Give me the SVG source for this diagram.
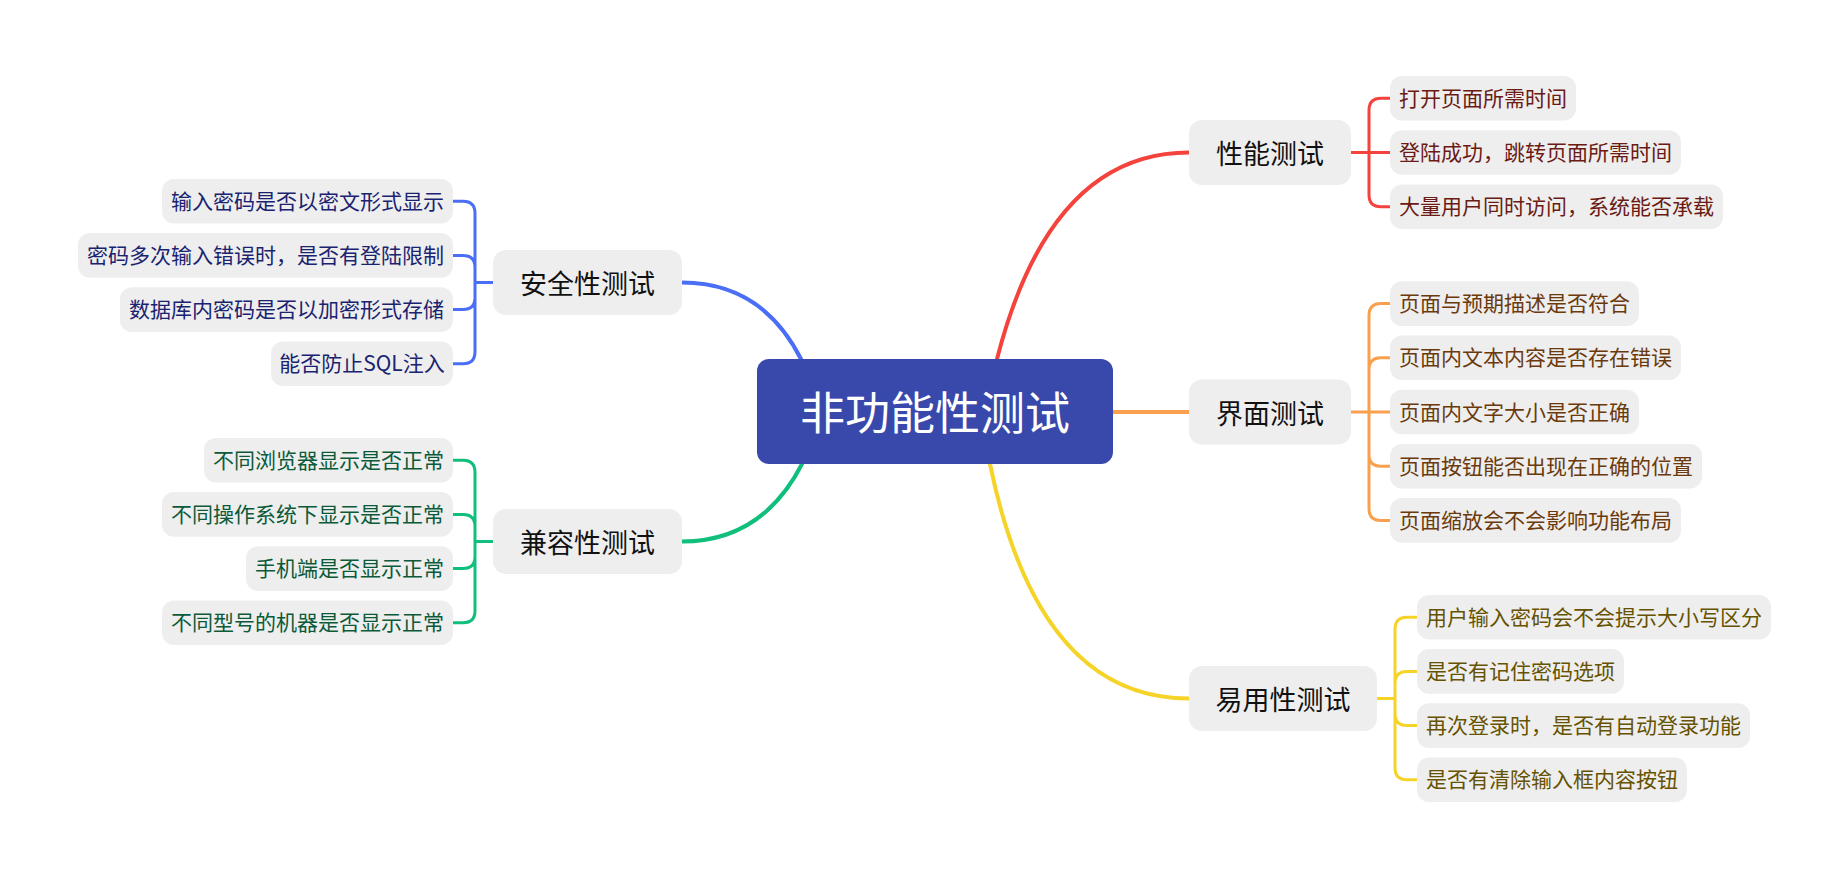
<svg xmlns="http://www.w3.org/2000/svg" width="1846" height="878" viewBox="0 0 1846 878">
<style>
text{font-family:"Noto Sans CJK SC","Microsoft YaHei",sans-serif;text-anchor:middle}
.bg{fill:#ffffff}
.root rect{fill:#3949ab}
.root text{fill:#ffffff;font-size:45px}
.br rect{fill:#eeeeee}
.br text{fill:#111111;font-size:27px}
.lf rect{fill:#eeeeee}
.lf text{font-size:21px}
.c{fill:none;stroke-linecap:round}
.m{stroke-width:4}
.s{stroke-width:3}
.red{stroke:#f4433c}.ora{stroke:#f8a04d}.yel{stroke:#f5d327}.blu{stroke:#4a6ef5}.grn{stroke:#10bf7c}
.tr text{fill:#6b1a14}.to text{fill:#6b3a0c}.ty text{fill:#665200}.tb text{fill:#1a2370}.tg text{fill:#0b5a3a}
</style>
<rect class="bg" x="0" y="0" width="1846" height="878"/>
<g id="connectors">
<path class="c m red" d="M997,359 Q1050,152.5 1189,152.5"/>
<path class="c m ora" d="M1113,412 H1189"/>
<path class="c m yel" d="M990,464 Q1038,698.5 1189,698.5"/>
<path class="c m blu" d="M801,359 Q762,282.5 682,282.5"/>
<path class="c m grn" d="M802,464 Q762,541.5 682,541.5"/>
<path class="c s red" d="M1351,152.5 H1390 M1369,152.5 V110.3 Q1369,98.3 1381,98.3 H1390 M1369,152.5 V194.7 Q1369,206.7 1381,206.7 H1390"/>
<path class="c s ora" d="M1351,412 H1390 M1369,412 V315.6 Q1369,303.6 1381,303.6 H1390 M1369,412 V369.8 Q1369,357.8 1381,357.8 H1390 M1369,412 V454.2 Q1369,466.2 1381,466.2 H1390 M1369,412 V508.4 Q1369,520.4 1381,520.4 H1390"/>
<path class="c s yel" d="M1377,698.5 H1395 M1395,698.5 V629.2 Q1395,617.2 1407,617.2 H1417 M1395,698.5 V683.4 Q1395,671.4 1407,671.4 H1417 M1395,698.5 V713.6 Q1395,725.6 1407,725.6 H1417 M1395,698.5 V767.8 Q1395,779.8 1407,779.8 H1417"/>
<path class="c s blu" d="M493,282.5 H475 M475,282.5 V213.2 Q475,201.2 463,201.2 H453 M475,282.5 V267.4 Q475,255.4 463,255.4 H453 M475,282.5 V297.6 Q475,309.6 463,309.6 H453 M475,282.5 V351.8 Q475,363.8 463,363.8 H453"/>
<path class="c s grn" d="M493,541.5 H475 M475,541.5 V472.2 Q475,460.2 463,460.2 H453 M475,541.5 V526.4 Q475,514.4 463,514.4 H453 M475,541.5 V556.6 Q475,568.6 463,568.6 H453 M475,541.5 V610.8 Q475,622.8 463,622.8 H453"/>
</g>
<g id="root" class="root"><rect x="757" y="359" width="356" height="105" rx="12"/><text x="935" y="430">非功能性测试</text></g>

<g id="perf" class="br"><rect x="1189" y="120" width="162" height="65" rx="13"/><text x="1270" y="164">性能测试</text></g>
<g id="ui" class="br"><rect x="1189" y="379.5" width="162" height="65" rx="13"/><text x="1270" y="423.5">界面测试</text></g>
<g id="usab" class="br"><rect x="1189" y="666" width="188" height="65" rx="13"/><text x="1283" y="710">易用性测试</text></g>
<g id="sec" class="br"><rect x="493" y="250" width="189" height="65" rx="13"/><text x="587.5" y="294">安全性测试</text></g>
<g id="comp" class="br"><rect x="493" y="509" width="189" height="65" rx="13"/><text x="587.5" y="553">兼容性测试</text></g>

<g class="lf tr">
<g id="perf1"><rect x="1390" y="76" width="186" height="44.6" rx="12"/><text x="1483" y="105.8">打开页面所需时间</text></g>
<g id="perf2"><rect x="1390" y="130.2" width="291" height="44.6" rx="12"/><text x="1535.5" y="160">登陆成功，跳转页面所需时间</text></g>
<g id="perf3"><rect x="1390" y="184.4" width="333" height="44.6" rx="12"/><text x="1556.5" y="214.2">大量用户同时访问，系统能否承载</text></g>
</g>
<g class="lf to">
<g id="ui1"><rect x="1390" y="281.3" width="249" height="44.6" rx="12"/><text x="1514.5" y="311.1">页面与预期描述是否符合</text></g>
<g id="ui2"><rect x="1390" y="335.5" width="291" height="44.6" rx="12"/><text x="1535.5" y="365.3">页面内文本内容是否存在错误</text></g>
<g id="ui3"><rect x="1390" y="389.7" width="249" height="44.6" rx="12"/><text x="1514.5" y="419.5">页面内文字大小是否正确</text></g>
<g id="ui4"><rect x="1390" y="443.9" width="312" height="44.6" rx="12"/><text x="1546" y="473.7">页面按钮能否出现在正确的位置</text></g>
<g id="ui5"><rect x="1390" y="498.1" width="291" height="44.6" rx="12"/><text x="1535.5" y="527.9">页面缩放会不会影响功能布局</text></g>
</g>
<g class="lf ty">
<g id="us1"><rect x="1417" y="594.9" width="354" height="44.6" rx="12"/><text x="1594" y="624.7">用户输入密码会不会提示大小写区分</text></g>
<g id="us2"><rect x="1417" y="649.1" width="207" height="44.6" rx="12"/><text x="1520.5" y="678.9">是否有记住密码选项</text></g>
<g id="us3"><rect x="1417" y="703.3" width="333" height="44.6" rx="12"/><text x="1583.5" y="733.1">再次登录时，是否有自动登录功能</text></g>
<g id="us4"><rect x="1417" y="757.5" width="270" height="44.6" rx="12"/><text x="1552" y="787.3">是否有清除输入框内容按钮</text></g>
</g>
<g class="lf tb">
<g id="sec1"><rect x="162" y="178.9" width="291" height="44.6" rx="12"/><text x="307.5" y="208.7">输入密码是否以密文形式显示</text></g>
<g id="sec2"><rect x="78" y="233.1" width="375" height="44.6" rx="12"/><text x="265.5" y="262.9">密码多次输入错误时，是否有登陆限制</text></g>
<g id="sec3"><rect x="120" y="287.3" width="333" height="44.6" rx="12"/><text x="286.5" y="317.1">数据库内密码是否以加密形式存储</text></g>
<g id="sec4"><rect x="271" y="341.5" width="182" height="44.6" rx="12"/><text x="362" y="371.3">能否防止SQL注入</text></g>
</g>
<g class="lf tg">
<g id="comp1"><rect x="204" y="437.9" width="249" height="44.6" rx="12"/><text x="328.5" y="467.7">不同浏览器显示是否正常</text></g>
<g id="comp2"><rect x="162" y="492.1" width="291" height="44.6" rx="12"/><text x="307.5" y="521.9">不同操作系统下显示是否正常</text></g>
<g id="comp3"><rect x="246" y="546.3" width="207" height="44.6" rx="12"/><text x="349.5" y="576.1">手机端是否显示正常</text></g>
<g id="comp4"><rect x="162" y="600.5" width="291" height="44.6" rx="12"/><text x="307.5" y="630.3">不同型号的机器是否显示正常</text></g>
</g>
</svg>
